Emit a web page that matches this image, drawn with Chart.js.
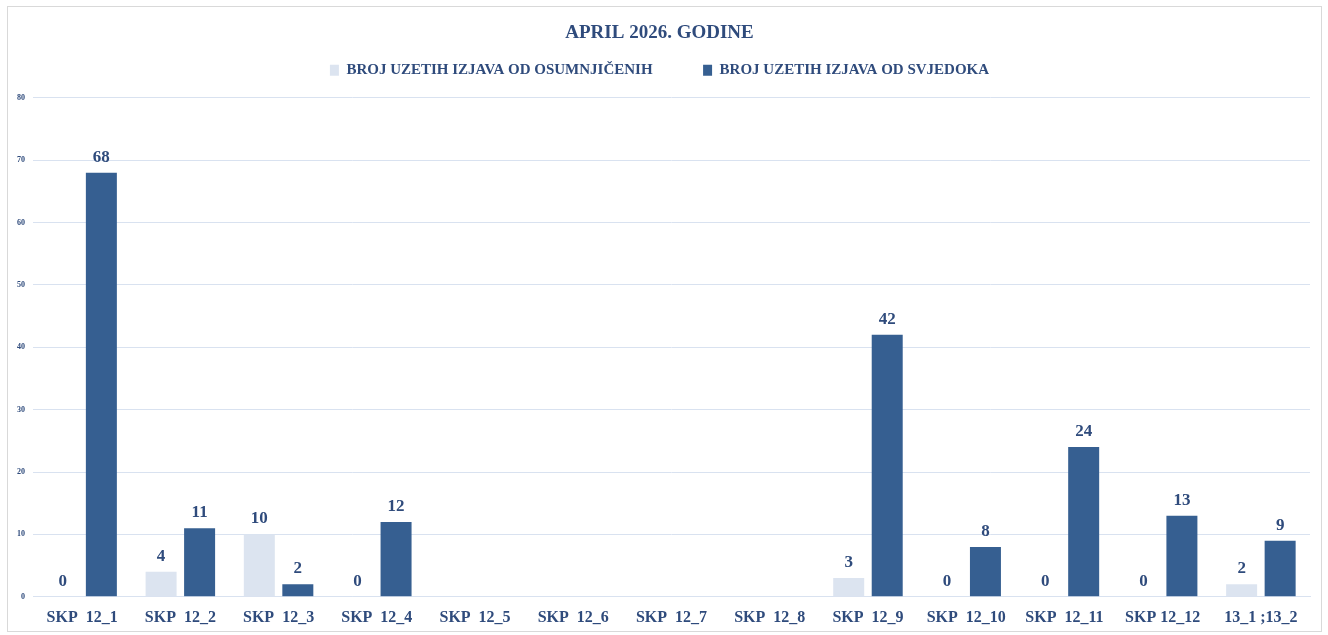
<!DOCTYPE html>
<html>
<head>
<meta charset="utf-8">
<script src="https://cdn.jsdelivr.net/npm/chart.js@4.4.0/dist/chart.umd.min.js"></script>
<style>
  html, body { margin: 0; padding: 0; background: #ffffff; }
  #frame { position: absolute; left: 7px; top: 6px; width: 1313px; height: 624px; border: 1px solid #d9d9d9; }
  #wrap { position: absolute; left: 0; top: 0; width: 1328px; height: 635px; }
</style>
</head>
<body>
<div id="frame"></div>
<div id="wrap"><canvas id="chart"></canvas></div>
<script>
// Podaci
const kategorije = ["SKP  12_1", "SKP  12_2", "SKP  12_3", "SKP  12_4", "SKP  12_5", "SKP  12_6", "SKP  12_7", "SKP  12_8", "SKP  12_9", "SKP  12_10", "SKP  12_11", "SKP 12_12", "13_1 ;13_2"];
const osumnjiceni = [0, 4, 10, 0, null, null, null, null, 3, 0, 0, 0, 2];
const svjedoci = [68, 11, 2, 12, null, null, null, null, 42, 8, 24, 13, 9];
const yTicks = [0, 10, 20, 30, 40, 50, 60, 70, 80];

const tamnoPlava = "#2f4b7c";
const fontFamily = "'Liberation Serif', 'DejaVu Serif', serif";

// Oznake vrijednosti iznad stupaca
const oznakePlugin = {
  id: "oznake",
  afterDatasetsDraw(chart) {
    const ctx = chart.ctx;
    ctx.save();
    ctx.font = "bold 17px " + fontFamily;
    ctx.fillStyle = tamnoPlava;
    ctx.textAlign = "center";
    ctx.textBaseline = "bottom";
    chart.data.datasets.forEach((ds, i) => {
      const meta = chart.getDatasetMeta(i);
      meta.data.forEach((bar, j) => {
        const v = ds.data[j];
        if (v === null || v === undefined) return;
        ctx.fillText(String(v), bar.x, bar.y - 7);
      });
    });
    ctx.restore();
  },
};

// Razmak ispod legende
const legendaRazmak = {
  id: "legendaRazmak",
  beforeInit(chart) {
    const fit = chart.legend.fit;
    chart.legend.fit = function () {
      fit.bind(chart.legend)();
      this.height += 10;
    };
  },
};

new Chart(document.getElementById("chart"), {
  type: "bar",
  data: {
    labels: kategorije,
    datasets: [
      {
        label: "BROJ UZETIH IZJAVA OD OSUMNJIČENIH  ",
        data: osumnjiceni,
        backgroundColor: "#dce4f0",
        categoryPercentage: 0.784,
        barPercentage: 0.805,
      },
      {
        label: "BROJ UZETIH IZJAVA OD SVJEDOKA",
        data: svjedoci,
        backgroundColor: "#365f91",
        categoryPercentage: 0.784,
        barPercentage: 0.805,
      },
    ],
  },
  options: {
    responsive: true,
    maintainAspectRatio: false,
    animation: false,
    layout: {
      padding: { left: 9, right: 18, top: 14, bottom: -3 },
    },
    plugins: {
      title: {
        display: true,
        text: "APRIL 2026. GODINE",
        color: tamnoPlava,
        font: { family: fontFamily, size: 19, weight: "bold" },
        padding: { top: 8, bottom: -25 },
      },
      legend: {
        display: true,
        position: "top",
        labels: {
          color: tamnoPlava,
          font: { family: fontFamily, size: 15, weight: "bold" },
          boxWidth: 9,
          boxHeight: 11,
          padding: 43,
        },
      },
      tooltip: { enabled: false },
    },
    scales: {
      x: {
        grid: { display: false, drawTicks: false },
        border: { color: "#d9e2f0" },
        ticks: {
          color: tamnoPlava,
          font: { family: fontFamily, size: 16, weight: "bold" },
          padding: 11,
          maxRotation: 0,
          autoSkip: false,
        },
      },
      y: {
        min: 0,
        max: 80,
        afterBuildTicks: (axis) => {
          axis.ticks = yTicks.map((v) => ({ value: v }));
        },
        grid: { color: "#d9e2f0", drawTicks: false },
        border: { display: false },
        ticks: {
          color: tamnoPlava,
          font: { family: fontFamily, size: 8, weight: "bold" },
          padding: 8,
        },
      },
    },
  },
  plugins: [oznakePlugin, legendaRazmak],
});
</script>
</body>
</html>
